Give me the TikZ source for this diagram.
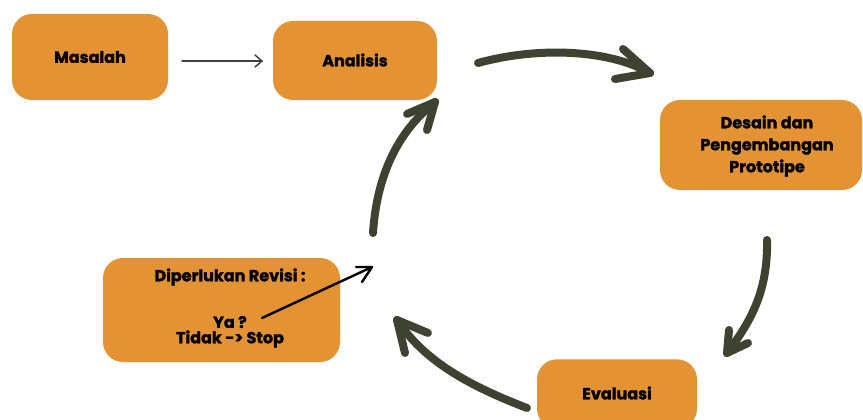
\documentclass[tikz,border=0pt]{standalone}
\usepackage{fontspec}
\setmainfont{Poppins}[BoldFeatures={FakeBold=1.6}]
\begin{document}
\begin{tikzpicture}[x=0.75pt,y=-0.75pt,
  box/.style={fill=boxorange,draw=none,rounded corners=15pt,inner sep=0pt},
  lbl/.style={font=\bfseries\fontsize{12}{16.5}\selectfont,align=center,text=black,inner sep=0pt},
  bigarrow/.style={draw=arrowdark,line width=6pt,line cap=round,line join=round},
  thinarrow/.style={draw=#1,line cap=round,line join=round}]
\definecolor{boxorange}{HTML}{E39334}
\definecolor{arrowdark}{HTML}{3E4231}
\useasboundingbox[fill=white] (0,0) rectangle (863,420);
% boxes
\node[box,minimum width=117pt,minimum height=64.5pt] (mas) at (90,57) {};
\node[lbl] (mast) at (90,57) {Masalah};
\node[box,minimum width=123pt,minimum height=59.25pt] (ana) at (355,60.5) {};
\node[lbl] (anat) at (355,60) {Analisis};
\node[box,minimum width=151.5pt,minimum height=67.5pt] (des) at (761,145) {};
\node[lbl] (dest) at (767,146) {Desain dan\\Pengembangan\\Prototipe};
\node[box,minimum width=177.75pt,minimum height=78pt] (rev) at (221.5,310) {};
\node[lbl] (revt1) at (230,277) {Diperlukan Revisi :};
\node[lbl] (revt2) at (230,322) {Ya ?};
\node[lbl] (revt3) at (230,339) {Tidak -> Stop};
\node[box,minimum width=120pt,minimum height=52pt] (eva) at (617,394) {};
\node[lbl] (evat) at (617,393) {Evaluasi};
% coordinates
\coordinate (m1) at (182,61); \coordinate (m2) at (262,61);
\coordinate (m2a) at (255,55); \coordinate (m2b) at (255,67);
\coordinate (t1) at (478,63); \coordinate (t2) at (650,73);
\coordinate (t2a) at (623,49); \coordinate (t2b) at (615,79);
\coordinate (r1) at (767,240); \coordinate (r2) at (727,353);
\coordinate (r2a) at (729,330); \coordinate (r2b) at (748,343);
\coordinate (b1) at (527,408); \coordinate (b2) at (397,320);
\coordinate (b2a) at (428,333); \coordinate (b2b) at (405,353);
\coordinate (l1) at (373,233); \coordinate (l2) at (435,102);
\coordinate (l2a) at (407,114); \coordinate (l2b) at (427,130);
\coordinate (y1) at (262,318); \coordinate (y2) at (372,267);
\coordinate (y2a) at (356,267); \coordinate (y2b) at (362,282);
% connectors
\draw[thinarrow=black!75,line width=1.1pt] (m1) -- (m2);
\draw[thinarrow=black!75,line width=1.1pt] (m2a) -- (m2) -- (m2b);
\draw[bigarrow] (t1) .. controls (540,46) and (610,50) .. (t2);
\draw[bigarrow] (t2a) -- (t2) -- (t2b);
\draw[bigarrow] (r1) .. controls (768,290) and (752,320) .. (r2);
\draw[bigarrow] (r2a) -- (r2) -- (r2b);
\draw[bigarrow] (b1) .. controls (470,386) and (425,362) .. (b2);
\draw[bigarrow] (b2a) -- (b2) -- (b2b);
\draw[bigarrow] (l1) .. controls (377,172) and (400,130) .. (l2);
\draw[bigarrow] (l2a) -- (l2) -- (l2b);
\draw[thinarrow=black,line width=1.8pt] (y1) -- (y2);
\draw[thinarrow=black,line width=1.8pt] (y2a) -- (y2) -- (y2b);
\end{tikzpicture}
\end{document}
